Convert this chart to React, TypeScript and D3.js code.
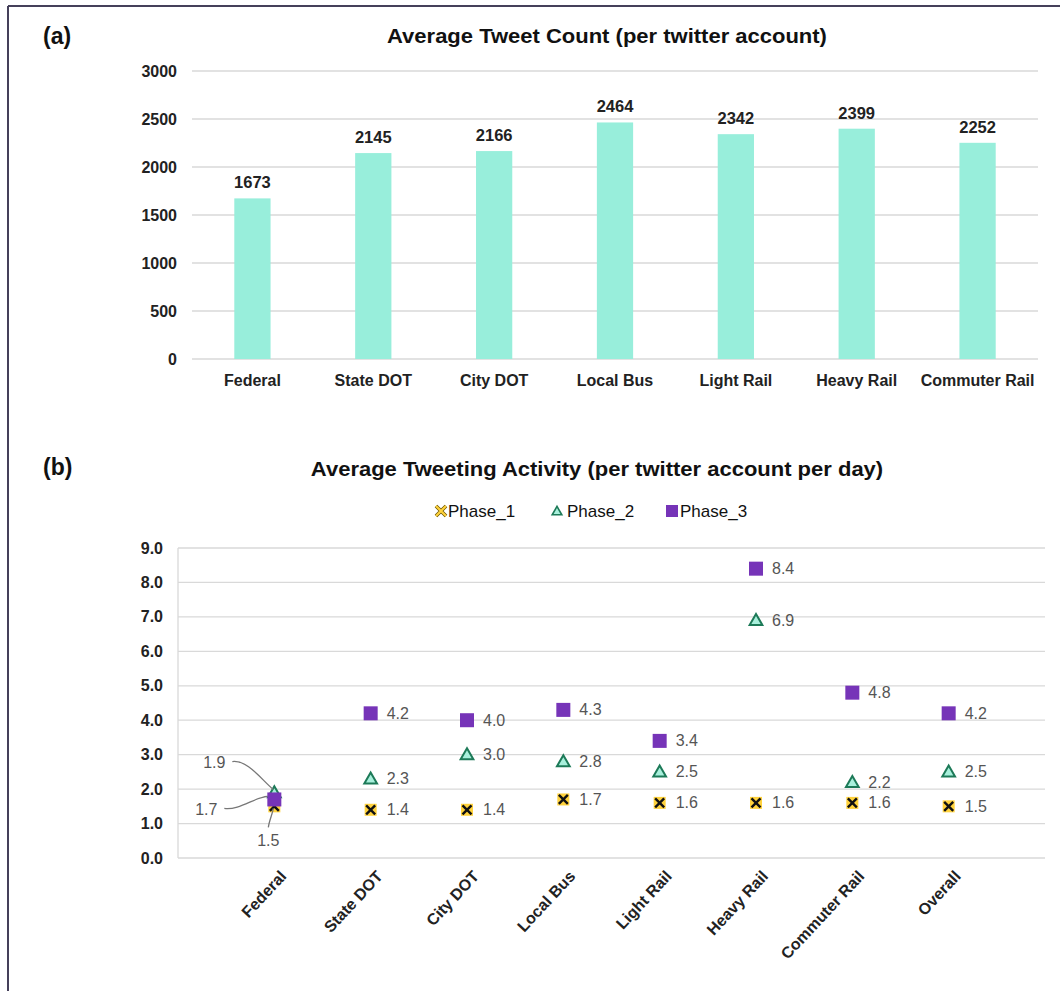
import React from "react";
import * as d3 from "d3";

const FONT = "'Liberation Sans', Arial, Helvetica, sans-serif";

// ---- Chart (a) data ----
const categoriesA = ["Federal", "State DOT", "City DOT", "Local Bus", "Light Rail", "Heavy Rail", "Commuter Rail"];
const tweetCounts = [1673, 2145, 2166, 2464, 2342, 2399, 2252];
const yTicksA = [0, 500, 1000, 1500, 2000, 2500, 3000];

// ---- Chart (b) data ----
const categoriesB = ["Federal", "State DOT", "City DOT", "Local Bus", "Light Rail", "Heavy Rail", "Commuter Rail", "Overall"];
const phase1 = [1.5, 1.4, 1.4, 1.7, 1.6, 1.6, 1.6, 1.5];
const phase2 = [1.9, 2.3, 3.0, 2.8, 2.5, 6.9, 2.2, 2.5];
const phase3 = [1.7, 4.2, 4.0, 4.3, 3.4, 8.4, 4.8, 4.2];
const yTicksB = [0, 1, 2, 3, 4, 5, 6, 7, 8, 9];
const seriesNames = ["Phase_1", "Phase_2", "Phase_3"];

const BAR_COLOR = "#98eedb";
const GRID = "#d9d9d9";
const YELLOW = "#ffd23c";
const TRI_STROKE = "#1d7a58";
const TRI_FILL = "#a8f0dc";
const PURPLE = "#7634b8";
const LABEL_GRAY = "#555";

function XMarker({ x, y }: { x: number; y: number }) {
  const s = 6;
  return (
    <g transform={`translate(${x},${y})`}>
      <rect x={-s} y={-s} width={2 * s} height={2 * s} fill={YELLOW} />
      <path d={`M${-4.5},${-4.5}L${4.5},${4.5}M${-4.5},${4.5}L${4.5},${-4.5}`} stroke="#111" strokeWidth={2.4} />
    </g>
  );
}
function TriMarker({ x, y }: { x: number; y: number }) {
  const sym = d3.symbol(d3.symbolTriangle, 70)();
  return <path transform={`translate(${x},${y + 1})`} d={sym || ""} fill={TRI_FILL} stroke={TRI_STROKE} strokeWidth={2} />;
}
function SqMarker({ x, y }: { x: number; y: number }) {
  const s = 7;
  return <rect x={x - s} y={y - s} width={2 * s} height={2 * s} fill={PURPLE} />;
}

export default function App() {
  // Chart (a) scales
  const xA = d3.scaleBand<string>().domain(categoriesA).range([192, 1038]).paddingInner(0.7).paddingOuter(0.35);
  const yA = d3.scaleLinear().domain([0, 3000]).range([359, 71]);

  // Chart (b) scales
  const xB = d3.scalePoint<string>().domain(categoriesB).range([178, 1045]).padding(1);
  const yB = d3.scaleLinear().domain([0, 9]).range([858, 548]);

  const series = [phase1, phase2, phase3];
  const markerFor = [XMarker, TriMarker, SqMarker];

  // Federal callout offsets (label relative to marker)
  const fedOffsets = [
    { dx: -6, dy: 34 },
    { dx: -60, dy: -30 },
    { dx: -68, dy: 10 },
  ];
  const fx = xB("Federal")!;
  const leader = (i: number) => {
    const my = yB(series[i][0]);
    const o = fedOffsets[i];
    const lx = fx + o.dx;
    const ly = my + o.dy;
    const p = d3.path();
    if (i === 0) {
      p.moveTo(lx, ly - 13);
      p.bezierCurveTo(lx + 1, ly - 20, fx - 2, my + 8, fx - 1, my + 2);
    } else if (i === 1) {
      p.moveTo(lx + 18, ly - 1);
      p.bezierCurveTo(lx + 33, ly - 3, fx - 13, my - 13, fx - 1, my - 3);
    } else {
      p.moveTo(lx + 18, ly - 1);
      p.bezierCurveTo(lx + 33, ly + 1, fx - 20, my - 2, fx - 7, my - 3);
    }
    return p.toString();
  };

  const legendItems = [
    { mx: 441, tx: 448 },
    { mx: 557, tx: 567 },
    { mx: 672, tx: 680 },
  ];

  return (
    <svg width={1060} height={991} style={{ position: "absolute", left: 0, top: 0, background: "#fff" }} fontFamily={FONT}>
      <rect x={0} y={0} width={1060} height={991} fill="#fff" />
      {/* frame */}
      <line x1={8} y1={6} x2={1060} y2={6} stroke="#45405a" strokeWidth={2} />
      <line x1={8} y1={6} x2={8} y2={991} stroke="#45405a" strokeWidth={2} />

      {/* ===== Chart (a) ===== */}
      <text x={43} y={44} fontSize={23} fontWeight="bold" fill="#111">(a)</text>
      <g transform={`translate(607,43) scale(1.1,1)`}>
        <text textAnchor="middle" fontSize={20} fontWeight="bold" fill="#111">Average Tweet Count (per twitter account)</text>
      </g>
      {yTicksA.map((t) => (
        <g key={t}>
          <line x1={192} x2={1038} y1={yA(t)} y2={yA(t)} stroke={GRID} strokeWidth={1.3} />
          <text x={177} y={yA(t)} dy="0.35em" textAnchor="end" fontSize={16} fontWeight="bold" fill="#222">{t}</text>
        </g>
      ))}
      {categoriesA.map((c, i) => (
        <g key={c}>
          <rect x={xA(c)!} y={yA(tweetCounts[i])} width={xA.bandwidth()} height={yA(0) - yA(tweetCounts[i])} fill={BAR_COLOR} />
          <text x={xA(c)! + xA.bandwidth() / 2} y={yA(tweetCounts[i]) - 10} textAnchor="middle" fontSize={16.5} fontWeight="bold" fill="#222">{tweetCounts[i]}</text>
          <text x={xA(c)! + xA.bandwidth() / 2} y={386} textAnchor="middle" fontSize={16} fontWeight="bold" fill="#222">{c}</text>
        </g>
      ))}

      {/* ===== Chart (b) ===== */}
      <text x={43} y={475} fontSize={23} fontWeight="bold" fill="#111">(b)</text>
      <g transform={`translate(597,476) scale(1.1,1)`}>
        <text textAnchor="middle" fontSize={20} fontWeight="bold" fill="#111">Average Tweeting Activity (per twitter account per day)</text>
      </g>

      {/* legend */}
      {seriesNames.map((s, i) => (
        <g key={s}>
          {i === 0 && (
            <g transform={`translate(${legendItems[i].mx},511)`}>
              <path d="M-5,-5L5,5M-5,5L5,-5" stroke="#6b5600" strokeWidth={3.6} />
              <path d="M-5,-5L5,5M-5,5L5,-5" stroke={YELLOW} strokeWidth={2.2} />
            </g>
          )}
          {i === 1 && (
            <path transform={`translate(${legendItems[i].mx},512)`} d={d3.symbol(d3.symbolTriangle, 40)() || ""} fill={TRI_FILL} stroke={TRI_STROKE} strokeWidth={1.6} />
          )}
          {i === 2 && <rect x={legendItems[i].mx - 6} y={505} width={12} height={12} fill={PURPLE} />}
          <text x={legendItems[i].tx} y={517} fontSize={17} fill="#111">{s}</text>
        </g>
      ))}

      {/* grid */}
      {yTicksB.map((t) => (
        <g key={t}>
          <line x1={178} x2={1045} y1={yB(t)} y2={yB(t)} stroke={GRID} strokeWidth={1.3} />
          <text x={163} y={yB(t)} dy="0.35em" textAnchor="end" fontSize={16} fontWeight="bold" fill="#222">{t.toFixed(1)}</text>
        </g>
      ))}
      <line x1={178} x2={178} y1={yB(9)} y2={yB(0)} stroke={GRID} strokeWidth={1.3} />

      {/* markers */}
      {series.map((vals, si) =>
        categoriesB.map((c, ci) => {
          const M = markerFor[si];
          return <M key={`${si}-${c}`} x={xB(c)!} y={yB(vals[ci])} />;
        })
      )}

      {/* data labels */}
      {series.map((vals, si) =>
        categoriesB.map((c, ci) => {
          if (ci === 0) {
            const o = fedOffsets[si];
            return (
              <g key={`l-${si}-${c}`}>
                <path d={leader(si)} fill="none" stroke="#777" strokeWidth={1.3} />
                <text x={xB(c)! + o.dx} y={yB(vals[ci]) + o.dy} dy="0.35em" textAnchor="middle" fontSize={16} fill={LABEL_GRAY}>{vals[ci].toFixed(1)}</text>
              </g>
            );
          }
          return (
            <text key={`l-${si}-${c}`} x={xB(c)! + 16} y={yB(vals[ci])} dy="0.35em" fontSize={16} fill={LABEL_GRAY}>{vals[ci].toFixed(1)}</text>
          );
        })
      )}

      {/* rotated x labels */}
      {categoriesB.map((c) => (
        <text key={`x-${c}`} transform={`translate(${xB(c)! + 13},${877}) rotate(-47)`} textAnchor="end" fontSize={16} fontWeight="bold" fill="#222">{c}</text>
      ))}
    </svg>
  );
}
